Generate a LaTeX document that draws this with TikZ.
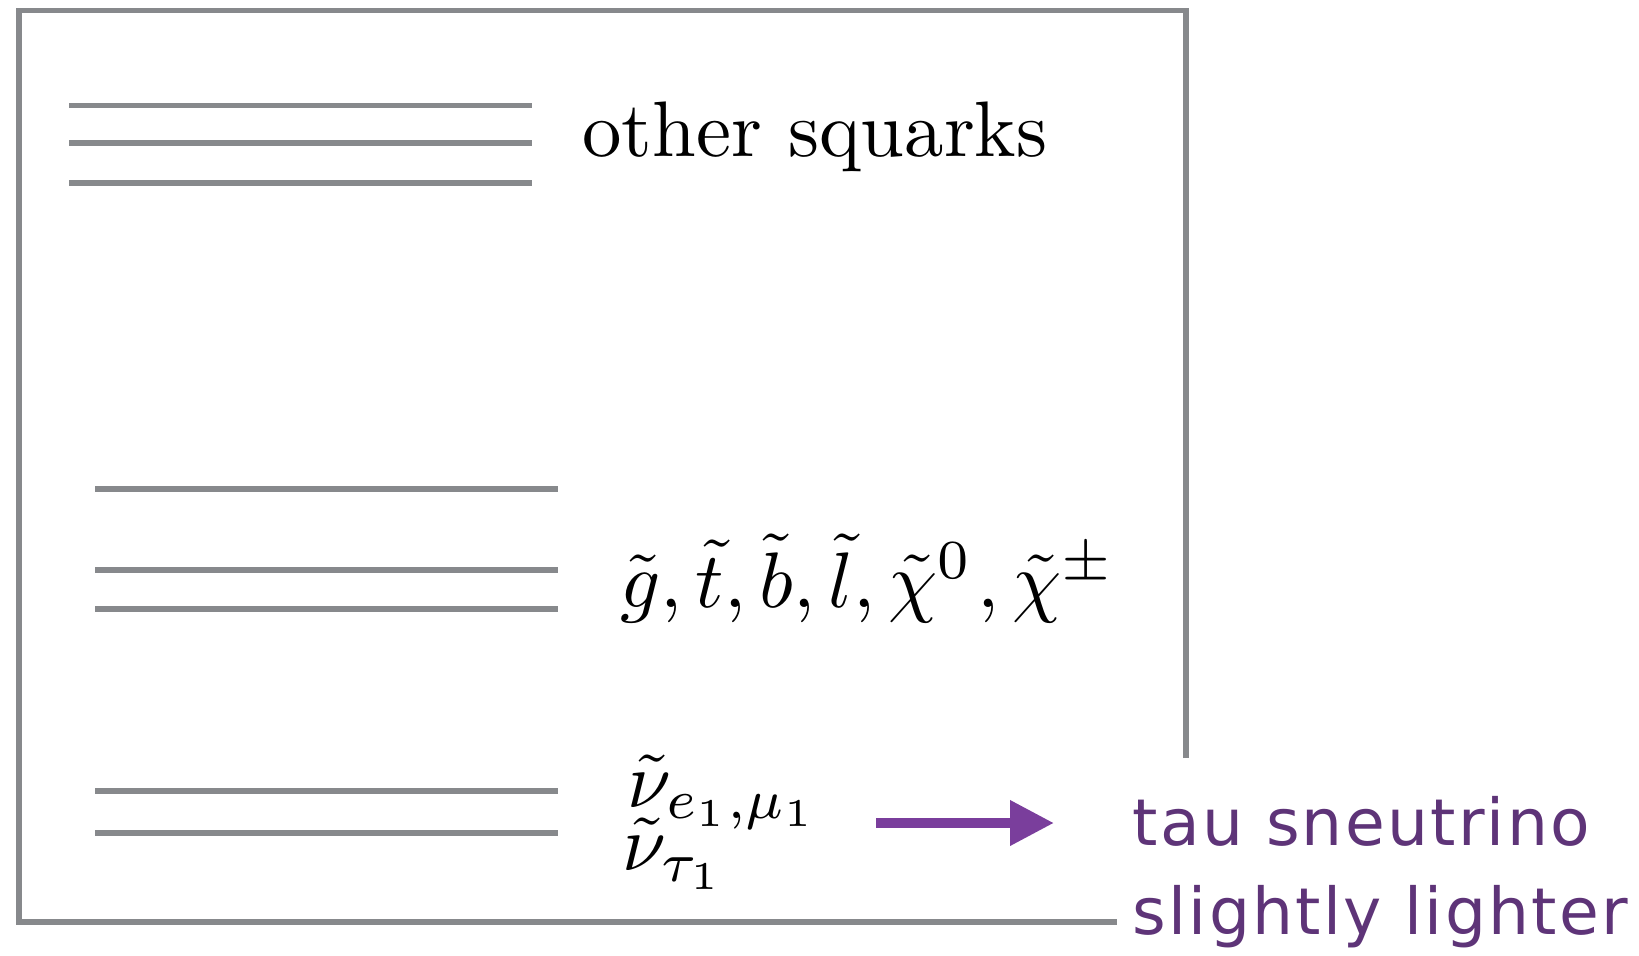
\documentclass[tikz,border=0pt]{standalone}
\usepackage{fontspec}
\newfontfamily\notefont[LetterSpace=3.5]{DejaVu Sans}
\usetikzlibrary{arrows.meta}
\definecolor{levelgray}{HTML}{87898C}
\definecolor{arrowpurple}{HTML}{7A3E9C}
\definecolor{notepurple}{HTML}{5E3478}
\tikzset{
  level/.style={levelgray, line width=1.5pt},
  masslabel/.style={inner sep=0pt, anchor=base west, scale=2.24},
  note/.style={inner sep=0pt, anchor=base west, text=notepurple,
    font=\notefont\fontsize{18.4}{21}\selectfont}
}
\begin{document}
\begin{tikzpicture}[x=0.1mm, y=-0.1mm]
  \useasboundingbox (0,0) rectangle (1639,955);
  % Frame, open at the lower right
  \draw[level] (1186,758) -- (1186,10.5) -- (19,10.5) -- (19,922) -- (1117,922);
  % Mass levels
  \foreach \y in {105.5,143,183}
    \draw[level] (69,\y) -- (532,\y);
  \foreach \y in {489,570,609,791,833}
    \draw[level] (95,\y) -- (558,\y);
  % Labels of the levels
  \node[masslabel] (squarks) at (581,157) {other squarks};
  \node[masslabel] (heavy) at (619,607) {$\tilde g, \tilde t, \tilde b, \tilde l, \tilde\chi^0\mkern1mu, \tilde\chi^\pm$};
  \node[masslabel] (nuEM) at (626,807) {$\tilde\nu_{e_1,\mu_1}$};
  \node[masslabel] (nuTau) at (621,870) {$\tilde\nu_{\tau_1}$};
  % Arrow to the note
  \coordinate (arrS) at (876,823);
  \coordinate (arrE) at (1054,823);
  \draw[arrowpurple, line width=2.85pt, -{Triangle[length=4.4mm, width=4.3mm]}] (arrS) -- (arrE);
  \node[note] (noteA) at (1132,845) {tau sneutrino};
  \node[note] (noteB) at (1132,934) {slightly lighter};
\end{tikzpicture}
\end{document}
